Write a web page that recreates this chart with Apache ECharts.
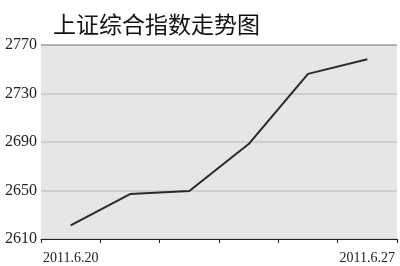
<!DOCTYPE html>
<html><head><meta charset="utf-8">
<script src="https://cdn.jsdelivr.net/npm/echarts@6/dist/echarts.min.js"></script>
<style>html,body{margin:0;padding:0;background:#fff}#c{width:400px;height:266px}</style>
</head><body><div id="c"></div>
<script>
var titleText = '上证综合指数走势图';
var categories = ['2011.6.20','2011.6.21','2011.6.22','2011.6.23','2011.6.24','2011.6.27'];
var shownLabels = ['2011.6.20','2011.6.27'];
var values = [2621.3, 2647.1, 2649.6, 2688.3, 2746.2, 2758.2];
var yTicks = [2610, 2650, 2690, 2730, 2770];

var chart = echarts.init(document.getElementById('c'), null, {renderer:'canvas'});
chart.setOption({
  animation:false,
  backgroundColor:'#ffffff',
  title:{text:titleText, left:48, top:8, textStyle:{fontFamily:'Noto Sans CJK SC', fontSize:23, fontWeight:'normal', color:'#111'}},
  grid:{left:41, right:3, top:45, bottom:27, show:true, backgroundColor:'#e6e6e6', borderWidth:0},
  xAxis:{type:'category', data:categories, boundaryGap:true,
    axisLine:{show:true, lineStyle:{color:'#222', width:1}},
    axisTick:{show:true, length:4, lineStyle:{color:'#222'}},
    axisLabel:{interval:0, margin:12, fontFamily:'Liberation Serif', fontSize:14, color:'#222',
      formatter:function(v){return shownLabels.indexOf(v)>=0 ? v : '';}},
    splitLine:{show:false}},
  yAxis:{type:'value', min:yTicks[0], max:yTicks[yTicks.length-1], interval:40,
    axisLine:{show:false}, axisTick:{show:false},
    axisLabel:{margin:4, fontFamily:'Liberation Serif', fontSize:16, color:'#222',
      formatter:function(v){return String(v);}},
    splitLine:{show:true, lineStyle:{color:['#c6c6c6','#c6c6c6','#c6c6c6','#c6c6c6','#9a9a9a'], width:1.5}}},
  series:[{type:'line', data:values, symbol:'none', lineStyle:{color:'#2a2a2a', width:2}}]
});
</script></body></html>
